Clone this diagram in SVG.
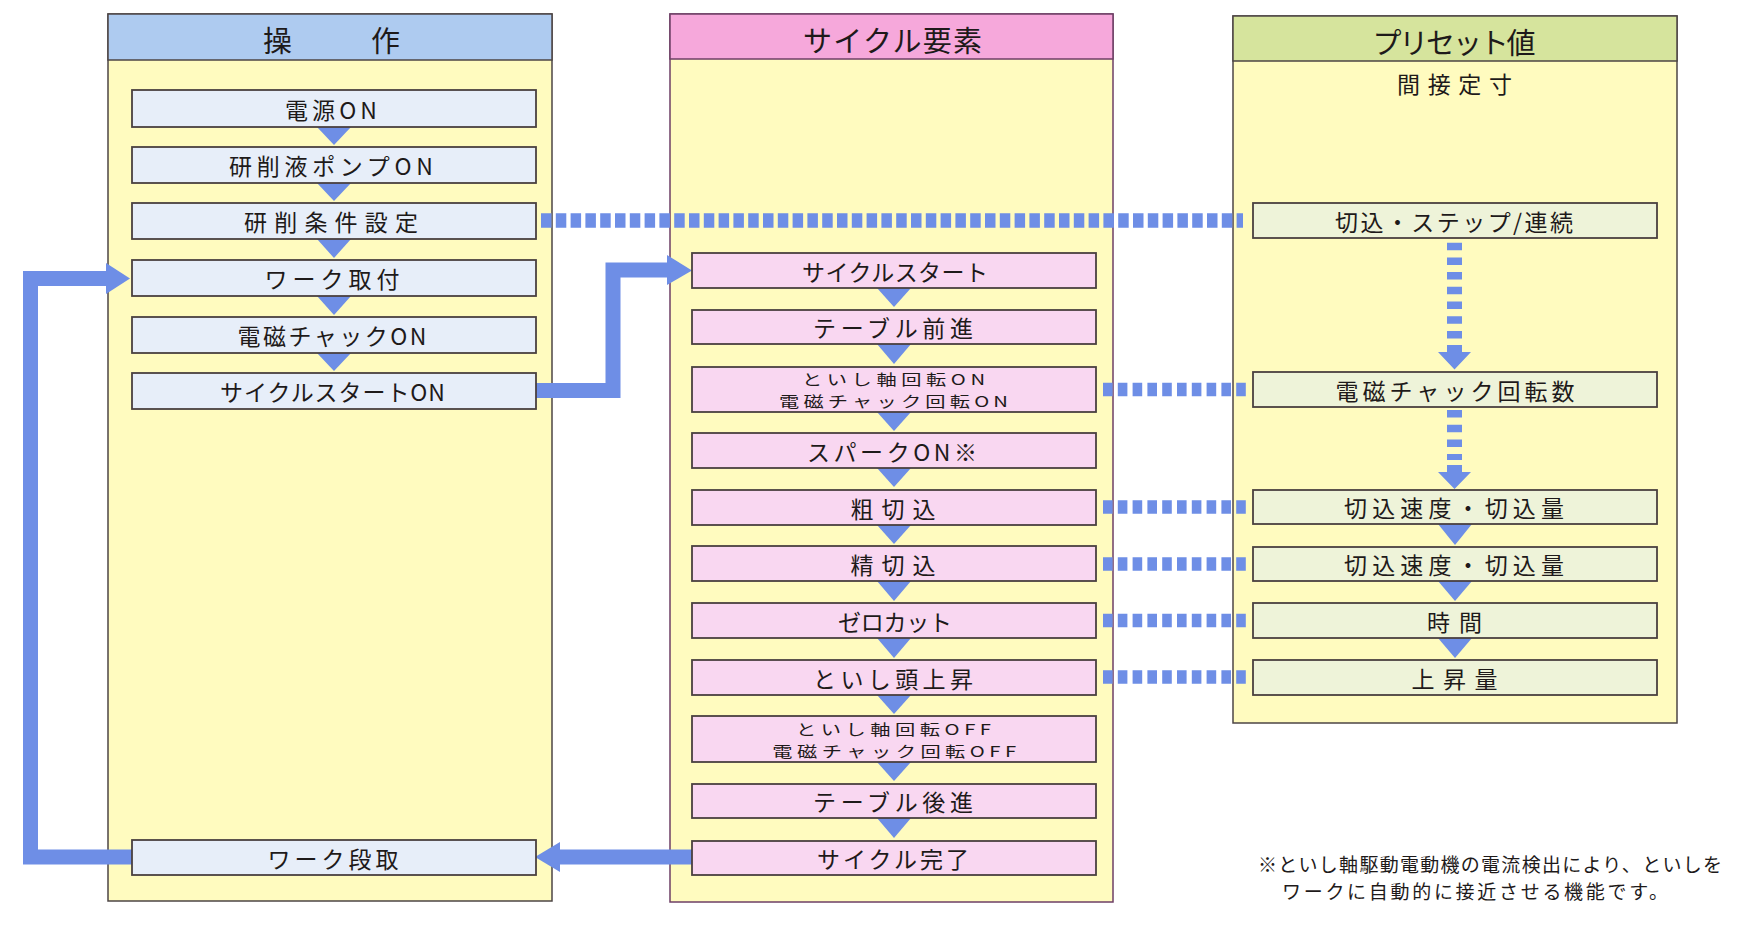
<svg xmlns="http://www.w3.org/2000/svg" width="1752" height="929" viewBox="0 0 1752 929">
<defs>
<style>
.bg{fill:#ffffff}
.pn{fill:#fffbbf;stroke:#4d4545;stroke-width:1.5}
.pnm{fill:#fffbbf;stroke:#6e3f66;stroke-width:1.5}
.hl{fill:#aecbf0;stroke:#4d4545;stroke-width:1.5}
.hm{fill:#f6a8db;stroke:#6e3f66;stroke-width:1.5}
.hr{fill:#d6e49d;stroke:#4d4545;stroke-width:1.5}
.bl{fill:#e7eef9;stroke:#4a4040;stroke-width:1.8}
.bm{fill:#f9d7f1;stroke:#4a4040;stroke-width:1.8}
.br{fill:#eef3d9;stroke:#4a4040;stroke-width:1.8}
.t{font-family:"Noto Sans CJK JP",sans-serif;font-size:23px;fill:#1e1a1a;text-anchor:middle;dominant-baseline:central}
.t2{font-family:"Noto Sans CJK JP",sans-serif;font-size:15px;fill:#1e1a1a;text-anchor:middle;dominant-baseline:central}
.th{font-family:"Noto Sans CJK JP",sans-serif;font-size:29px;fill:#1e1a1a;text-anchor:middle;dominant-baseline:central}
.fn{font-family:"Liberation Serif","Noto Sans CJK JP",serif;font-size:19px;fill:#1e1a1a;dominant-baseline:central}
.tri{fill:#6e8ee6}
.flow{fill:none;stroke:#6e8ee6;stroke-width:15;stroke-linejoin:miter}
.dotA{fill:none;stroke:#6e8ee6;stroke-width:14.5;stroke-dasharray:10.5 4.3}
.dotB{fill:none;stroke:#6e8ee6;stroke-width:13.5;stroke-dasharray:9.6 5.2}
.dotV{fill:none;stroke:#6e8ee6;stroke-width:15;stroke-dasharray:7.5 7.2}
</style>
</defs>
<rect class="bg" x="0" y="0" width="1752" height="929"/>

<g id="panel-operation">
<rect class="pn" x="108" y="14" width="444" height="887"/>
<rect class="hl" x="108" y="14" width="444" height="46"/>
<text class="th" x="331.5" y="39" textLength="137" lengthAdjust="spacing">操　作</text>
</g>
<g id="panel-cycle">
<rect class="pnm" x="670" y="14" width="443" height="888"/>
<rect class="hm" x="670" y="14" width="443" height="45"/>
<text class="th" x="892.5" y="39" textLength="179" lengthAdjust="spacing">サイクル要素</text>
</g>
<g id="panel-preset">
<rect class="pn" x="1233" y="16" width="444" height="707"/>
<rect class="hr" x="1233" y="16" width="444" height="45"/>
<text class="th" x="1454" y="41" textLength="163" lengthAdjust="spacing">プリセット値</text>
<text class="t" x="1454.5" y="83" textLength="115" lengthAdjust="spacing">間接定寸</text>
</g>

<g id="connectors">
<path class="flow" d="M536 390.5 H613 V270 H668"/>
<polygon class="tri" points="667,255 692,270.5 667,285"/>
<path class="flow" d="M692 857 H559"/>
<polygon class="tri" points="560,842 535,857 560,872"/>
<path class="flow" d="M132 857 H30.5 V278.5 H107"/>
<polygon class="tri" points="106,263 130,278.5 106,294"/>
<path class="dotA" d="M541 220.5 H1243"/>
<path class="dotB" d="M1103 389.5 H1246"/>
<path class="dotB" d="M1103 507 H1246"/>
<path class="dotB" d="M1103 564 H1246"/>
<path class="dotB" d="M1103 620.5 H1246"/>
<path class="dotB" d="M1103 677 H1246"/>
<path class="dotV" d="M1454.5 242.7 V339"/>
<path class="tri" d="M1447 345 H1462 V352 H1471 L1454.5 369.5 L1438 352 H1447 Z"/>
<path class="dotV" d="M1454.5 410 V460"/>
<path class="tri" d="M1447 465 H1462 V472 H1471 L1454.5 489 L1438 472 H1447 Z"/>
<polygon class="tri" points="317,127 351,127 334,145"/>
<polygon class="tri" points="317,183 351,183 334,201"/>
<polygon class="tri" points="317,239 351,239 334,258"/>
<polygon class="tri" points="317,296 351,296 334,315"/>
<polygon class="tri" points="317,353 351,353 334,371"/>
<polygon class="tri" points="877,288 911,288 894,307"/>
<polygon class="tri" points="877,344 911,344 894,364"/>
<polygon class="tri" points="877,412 911,412 894,431"/>
<polygon class="tri" points="877,468 911,468 894,487"/>
<polygon class="tri" points="877,525 911,525 894,544"/>
<polygon class="tri" points="877,581 911,581 894,601"/>
<polygon class="tri" points="877,638 911,638 894,658"/>
<polygon class="tri" points="877,695 911,695 894,714"/>
<polygon class="tri" points="877,762 911,762 894,781"/>
<polygon class="tri" points="877,818 911,818 894,838"/>
<polygon class="tri" points="1438,524 1472,524 1455,545"/>
<polygon class="tri" points="1438,581 1472,581 1455,601"/>
<polygon class="tri" points="1438,638 1472,638 1455,658"/>
</g>

<g id="op-power"><rect class="bl" x="132" y="90" width="404" height="37"/><text class="t" x="331" y="108.5" textLength="92" lengthAdjust="spacing">電源ON</text></g>
<g id="op-pump"><rect class="bl" x="132" y="147" width="404" height="36"/><text class="t" x="331" y="165" textLength="204" lengthAdjust="spacing">研削液ポンプON</text></g>
<g id="op-cond"><rect class="bl" x="132" y="203" width="404" height="36"/><text class="t" x="331" y="221" textLength="174" lengthAdjust="spacing">研削条件設定</text></g>
<g id="op-load"><rect class="bl" x="132" y="260" width="404" height="36"/><text class="t" x="332" y="278" textLength="135" lengthAdjust="spacing">ワーク取付</text></g>
<g id="op-chuck"><rect class="bl" x="132" y="317" width="404" height="36"/><text class="t" x="332" y="335" textLength="189" lengthAdjust="spacing">電磁チャックON</text></g>
<g id="op-start"><rect class="bl" x="132" y="373" width="404" height="36"/><text class="t" x="332.5" y="391" textLength="225" lengthAdjust="spacing">サイクルスタートON</text></g>
<g id="op-unload"><rect class="bl" x="132" y="840" width="404" height="35"/><text class="t" x="333" y="857.5" textLength="131" lengthAdjust="spacing">ワーク段取</text></g>

<g id="cy-start"><rect class="bm" x="692" y="253" width="404" height="35"/><text class="t" x="895" y="270.5" textLength="186" lengthAdjust="spacing">サイクルスタート</text></g>
<g id="cy-table-fwd"><rect class="bm" x="692" y="310" width="404" height="34"/><text class="t" x="893" y="327" textLength="160" lengthAdjust="spacing">テーブル前進</text></g>
<g id="cy-rot-on"><rect class="bm" x="692" y="367" width="404" height="45"/>
<g transform="matrix(1.35 0 0 1 -312.7 0)"><text class="t2" x="893.5" y="378.5" textLength="135.6" lengthAdjust="spacing">といし軸回転ON</text><text class="t2" x="893.5" y="400.5" textLength="169.6" lengthAdjust="spacing">電磁チャック回転ON</text></g></g>
<g id="cy-spark"><rect class="bm" x="692" y="433" width="404" height="35"/><text class="t" x="892" y="450.5" textLength="170" lengthAdjust="spacing">スパークON※</text></g>
<g id="cy-rough"><rect class="bm" x="692" y="490" width="404" height="35"/><text class="t" x="893" y="507.5" textLength="85" lengthAdjust="spacing">粗切込</text></g>
<g id="cy-fine"><rect class="bm" x="692" y="546" width="404" height="35"/><text class="t" x="893" y="563.5" textLength="85" lengthAdjust="spacing">精切込</text></g>
<g id="cy-zero"><rect class="bm" x="692" y="603" width="404" height="35"/><text class="t" x="895" y="620.5" textLength="114" lengthAdjust="spacing">ゼロカット</text></g>
<g id="cy-head-up"><rect class="bm" x="692" y="660" width="404" height="35"/><text class="t" x="893" y="677.5" textLength="160" lengthAdjust="spacing">といし頭上昇</text></g>
<g id="cy-rot-off"><rect class="bm" x="692" y="716" width="404" height="46"/>
<g transform="matrix(1.35 0 0 1 -312.7 0)"><text class="t2" x="893.5" y="728" textLength="144.4" lengthAdjust="spacing">といし軸回転OFF</text><text class="t2" x="894" y="750.5" textLength="180.7" lengthAdjust="spacing">電磁チャック回転OFF</text></g></g>
<g id="cy-table-back"><rect class="bm" x="692" y="784" width="404" height="34"/><text class="t" x="893" y="801" textLength="160" lengthAdjust="spacing">テーブル後進</text></g>
<g id="cy-done"><rect class="bm" x="692" y="841" width="404" height="34"/><text class="t" x="893" y="858" textLength="152" lengthAdjust="spacing">サイクル完了</text></g>

<g id="pr-step"><rect class="br" x="1253" y="203" width="404" height="35"/><text class="t" x="1454" y="220.5" textLength="238" lengthAdjust="spacing">切込・ステップ/連続</text></g>
<g id="pr-chuck-rpm"><rect class="br" x="1253" y="372" width="404" height="35"/><text class="t" x="1455" y="389.5" textLength="239" lengthAdjust="spacing">電磁チャック回転数</text></g>
<g id="pr-feed1"><rect class="br" x="1253" y="490" width="404" height="34"/><text class="t" x="1454" y="507" textLength="220" lengthAdjust="spacing">切込速度・切込量</text></g>
<g id="pr-feed2"><rect class="br" x="1253" y="547" width="404" height="34"/><text class="t" x="1454" y="564" textLength="220" lengthAdjust="spacing">切込速度・切込量</text></g>
<g id="pr-time"><rect class="br" x="1253" y="603" width="404" height="35"/><text class="t" x="1454.5" y="620.5" textLength="55" lengthAdjust="spacing">時間</text></g>
<g id="pr-rise"><rect class="br" x="1253" y="660" width="404" height="35"/><text class="t" x="1454.5" y="677.5" textLength="86" lengthAdjust="spacing">上昇量</text></g>

<g id="footnote">
<text class="fn" x="1258" y="865" textLength="464" lengthAdjust="spacing">※といし軸駆動電動機の電流検出により、といしを</text>
<text class="fn" x="1282" y="892" textLength="386" lengthAdjust="spacing">ワークに自動的に接近させる機能です。</text>
</g>
</svg>
